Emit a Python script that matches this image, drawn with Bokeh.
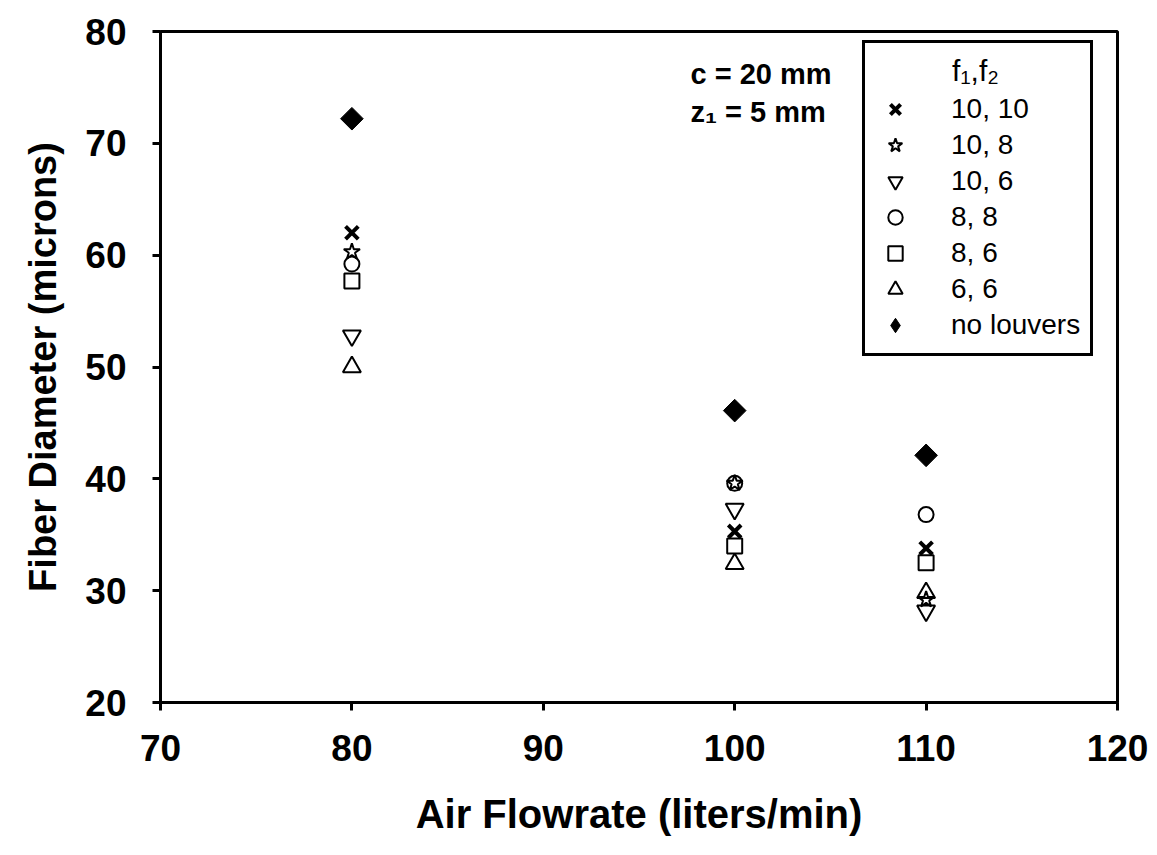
import math
from bokeh.plotting import figure
from bokeh.models import Range1d, FixedTicker, Legend, LegendItem, Label
from bokeh.embed import file_html
from bokeh.resources import INLINE

# ---- data ----
flowrate = [80, 100, 110]
d_10_10 = [62.0, 35.3, 33.8]
d_10_8 = [60.3, 39.6, 29.2]
d_10_6 = [52.8, 37.3, 28.2]
d_8_8 = [59.2, 39.6, 36.8]
d_8_6 = [57.7, 34.0, 32.5]
d_6_6 = [50.0, 32.4, 29.8]
d_none = [72.2, 46.1, 42.1]

x_ticks = [70, 80, 90, 100, 110, 120]
y_ticks = [20, 30, 40, 50, 60, 70, 80]
series_labels = ["10, 10", "10, 8", "10, 6", "8, 8", "8, 6", "6, 6", "no louvers"]

FONT = "Liberation Sans"

p = figure(width=1157, height=855, output_backend="svg", toolbar_location=None,
           x_range=Range1d(70, 120), y_range=Range1d(20, 80),
           min_border_left=160, min_border_right=40, min_border_top=31, min_border_bottom=153)
p.grid.visible = False
p.outline_line_color = "black"
p.outline_line_width = 3
p.outline_line_alpha = 1
p.background_fill_color = "white"
p.border_fill_color = "white"

for ax, ticks in ((p.xaxis[0], x_ticks), (p.yaxis[0], y_ticks)):
    ax.ticker = FixedTicker(ticks=ticks)
    ax.axis_line_width = 3
    ax.axis_line_color = "black"
    ax.major_tick_line_width = 3
    ax.major_tick_line_color = "black"
    ax.major_tick_out = 8
    ax.major_tick_in = 0
    ax.minor_tick_line_color = None
    ax.major_label_text_font = FONT
    ax.major_label_text_font_style = "bold"
    ax.major_label_text_font_size = "37px"
    ax.major_label_text_color = "black"
    ax.axis_label_text_font = FONT
    ax.axis_label_text_font_style = "bold"
    ax.axis_label_text_color = "black"

p.xaxis.axis_label = "Air Flowrate (liters/min)"
p.yaxis.axis_label = "Fiber Diameter (microns)"
p.xaxis.axis_label_text_font_size = "40px"
p.yaxis.axis_label_text_font_size = "38px"
p.xaxis.major_label_standoff = 24
p.yaxis.major_label_standoff = 26
p.xaxis.axis_label_standoff = 28
p.yaxis.axis_label_standoff = 18

r1 = p.scatter(flowrate, d_10_10, marker="x", size=18, line_color="black", line_width=4)
r2 = p.scatter(flowrate, d_10_8, marker="star", size=17, fill_color=None, line_color="black", line_width=2)
r3 = p.scatter(flowrate, d_10_6, marker="inverted_triangle", size=18, fill_color=None, line_color="black", line_width=2)
r4 = p.scatter(flowrate, d_8_8, marker="circle", size=15, fill_color=None, line_color="black", line_width=2)
r5 = p.scatter(flowrate, d_8_6, marker="square", size=15, fill_color=None, line_color="black", line_width=2)
r6 = p.scatter(flowrate, d_6_6, marker="triangle", size=18, fill_color=None, line_color="black", line_width=2)
# legend swatch for "no louvers" (sits fully beneath the rotated squares)
r7_leg = p.scatter(flowrate, d_none, marker="diamond", size=16, fill_color="black", line_color="black", line_width=1)
r7 = p.scatter(flowrate, d_none, marker="square", size=16, angle=math.pi / 4,
               fill_color="black", line_color="black", line_width=1)

title_lbl = Label(x=815, y=632, x_units="screen", y_units="screen", text="f\u2081,f\u2082",
                  text_font=FONT, text_font_size="30px", text_color="black",
                  text_align="center", text_baseline="alphabetic")
p.add_layout(title_lbl)

items = [LegendItem(label=l, renderers=[r])
         for l, r in zip(series_labels, [r1, r2, r3, r4, r5, r6, r7_leg])]
legend = Legend(items=items, location=(702, 346), title="f\u2081,f\u2082",
                title_text_font=FONT, title_text_font_size="30px", title_text_alpha=0,
                title_standoff=4,
                label_text_font=FONT, label_text_font_size="28px", label_text_color="black",
                glyph_width=40, glyph_height=36, label_height=36, spacing=0,
                label_standoff=36, padding=10, margin=0,
                border_line_color="black", border_line_width=3, border_line_alpha=1,
                background_fill_color="white", background_fill_alpha=0.0)
p.add_layout(legend, "center")

ann1 = Label(x=530, y=629, x_units="screen", y_units="screen", text="c = 20 mm",
             text_font=FONT, text_font_style="bold", text_font_size="29px", text_color="black",
             text_baseline="alphabetic")
ann2 = Label(x=530, y=591, x_units="screen", y_units="screen", text="z\u2081 = 5 mm",
             text_font=FONT, text_font_style="bold", text_font_size="29px", text_color="black",
             text_baseline="alphabetic")
p.add_layout(ann1)
p.add_layout(ann2)

open("out.html", "w").write(file_html(p, INLINE))
